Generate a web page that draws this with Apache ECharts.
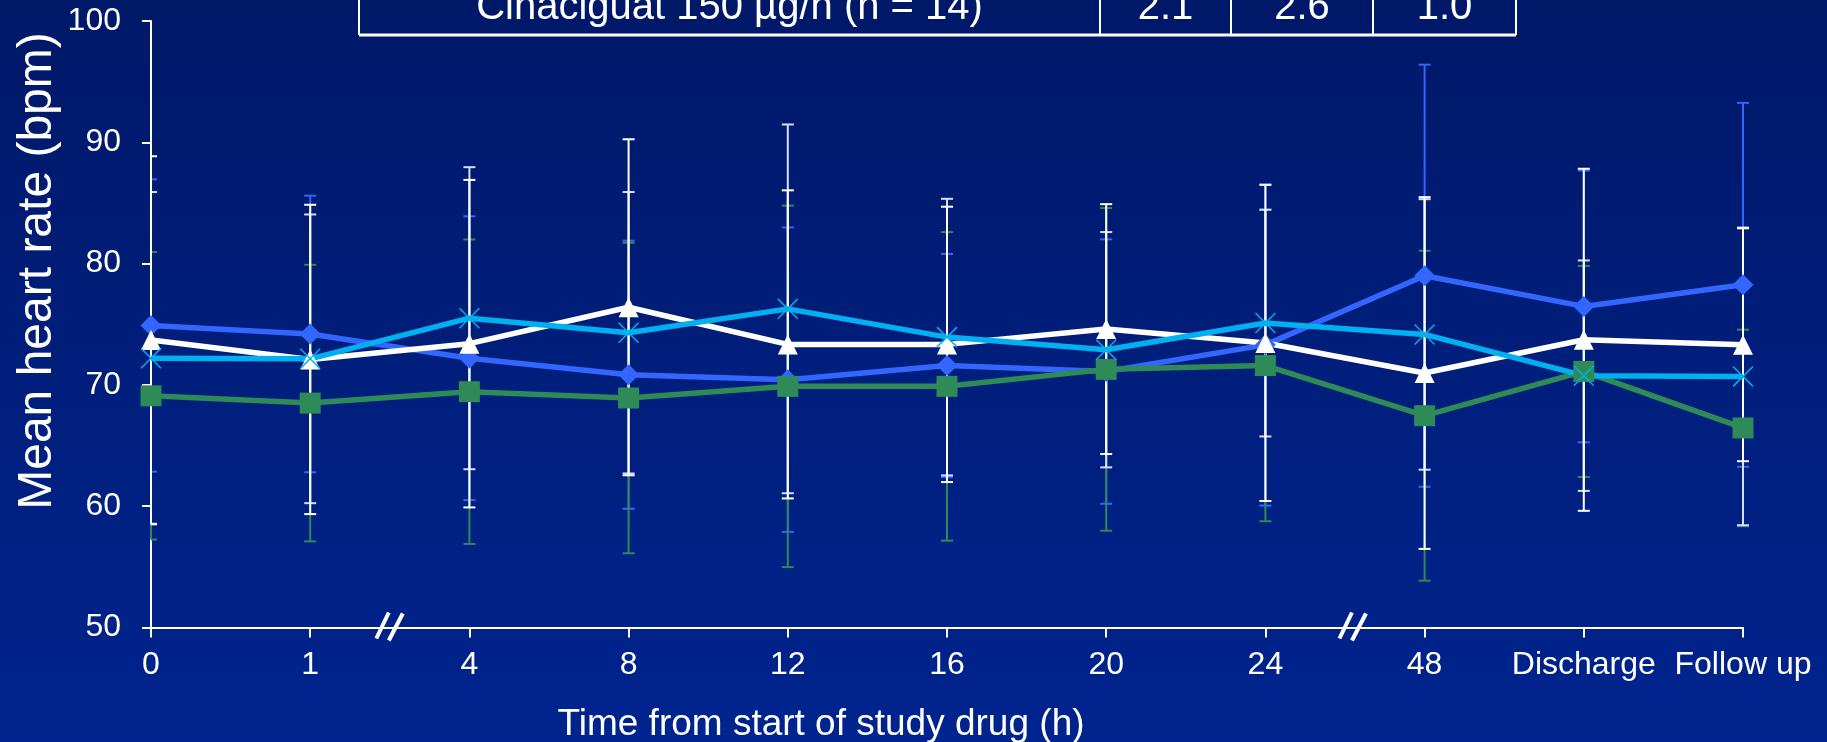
<!DOCTYPE html>
<html><head><meta charset="utf-8">
<script src="https://cdn.jsdelivr.net/npm/echarts@6/dist/echarts.min.js"></script>
<style>html,body{margin:0;padding:0;background:#001c70;}#c{width:1827px;height:742px;}</style>
</head><body><div id="c"></div>
<script>
// ---- data ----
const categories = ['0','1','4','8','12','16','20','24','48','Discharge','Follow up'];
const yTicks = [50, 60, 70, 80, 90, 100];
const yTitle = 'Mean heart rate (bpm)';
const xTitle = 'Time from start of study drug (h)';
const tableRow = ['Cinaciguat 150 µg/h (n = 14)', '2.1', '2.6', '1.0'];
const breakPositions = [1.5, 7.55];

const blueMean  = [74.9, 74.2, 72.2, 70.84, 70.43, 71.6, 71.1, 73.3, 79.0, 76.47, 78.25];
const blueSD    = [12.05, 11.4, 11.7, 11.05, 12.55, 9.2, 10.9, 13.25, 17.4, 11.2, 15.0];
const greenMean = [69.1, 68.5, 69.44, 68.92, 69.88, 69.88, 71.28, 71.59, 67.46, 71.11, 66.45];
const greenSD   = [11.85, 11.4, 12.55, 12.8, 14.9, 12.72, 13.3, 12.83, 13.6, 8.7, 8.1];
const whiteMean = [73.7, 72.1, 73.4, 76.4, 73.34, 73.34, 74.6, 73.46, 70.98, 73.72, 73.31];
const whiteSD   = [15.15, 12.75, 13.5, 13.85, 12.7, 11.35, 10.3, 13.03, 14.5, 14.1, 9.6];
const cyanMean  = [72.2, 72.15, 75.5, 74.3, 76.27, 73.94, 72.9, 75.1, 74.16, 70.76, 70.7];
const cyanSD    = [13.7, 11.9, 12.45, 11.6, 15.2, 11.4, 9.7, 9.35, 11.15, 9.5, 12.27];

// ---- styles ----
const FONT = '"Liberation Sans", Arial, sans-serif';
const C_BLUE = '#3366ff', C_GREEN = '#2e8b57', C_WHITE = '#ffffff', C_CYAN = '#00b0f0', C_CYANBAR = '#d9def2';
const X_PATH = 'path://M0,1L1,0L20,19L19,20Z M19,0L20,1L1,20L0,19Z';

const chart = echarts.init(document.getElementById('c'), null, {renderer: 'canvas'});

function errSeries(mean, sd, color, stemW, z) {
  return {
    type: 'custom', z: z, silent: true, animation: false,
    data: mean.map((m, i) => [i, m - sd[i], m + sd[i]]),
    encode: {x: 0, y: [1, 2]},
    renderItem: function (params, api) {
      const x = api.value(0);
      const lo = api.coord([x, api.value(1)]);
      const hi = api.coord([x, api.value(2)]);
      const minX = api.coord([0, yTicks[0]])[0];
      const hw = 6;
      const l = Math.max(hi[0] - hw, minX);
      return {type: 'group', children: [
        {type: 'line', shape: {x1: hi[0], y1: hi[1], x2: lo[0], y2: lo[1]}, style: {stroke: color, lineWidth: stemW}},
        {type: 'line', shape: {x1: l, y1: hi[1], x2: hi[0] + hw, y2: hi[1]}, style: {stroke: color, lineWidth: 2}},
        {type: 'line', shape: {x1: l, y1: lo[1], x2: lo[0] + hw, y2: lo[1]}, style: {stroke: color, lineWidth: 2}}
      ]};
    }
  };
}

function lineSeries(mean, color, symbol, size, z) {
  return {
    type: 'line', z: z, animation: false, silent: true,
    data: mean.map((v, i) => [i, v]),
    symbol: symbol, symbolSize: size, showSymbol: true,
    lineStyle: {color: color, width: 5.5},
    itemStyle: {color: color}
  };
}

const tableX = [359, 1100, 1231, 1373, 1516];
const tableBottom = 35;
const graphics = [];
tableX.forEach(x => graphics.push({type: 'line', shape: {x1: x, y1: -2, x2: x, y2: tableBottom}, style: {stroke: '#fff', lineWidth: 2}}));
graphics.push({type: 'line', shape: {x1: tableX[0], y1: tableBottom, x2: tableX[4], y2: tableBottom}, style: {stroke: '#fff', lineWidth: 3}});
tableRow.forEach((t, i) => graphics.push({
  type: 'text', x: (tableX[i] + tableX[i + 1]) / 2, y: 8,
  style: {text: t, fill: '#fff', font: '40px ' + FONT, align: 'center', verticalAlign: 'middle'}
}));
graphics.push({type: 'text', x: 38, y: 271, rotation: Math.PI / 2,
  style: {text: yTitle, fill: '#fff', font: '48px ' + FONT, align: 'center', verticalAlign: 'middle'}});
graphics.push({type: 'text', x: 821, y: 725,
  style: {text: xTitle, fill: '#fff', font: '37px ' + FONT, align: 'center', verticalAlign: 'middle'}});

chart.setOption({
  animation: false,
  backgroundColor: new echarts.graphic.LinearGradient(0, 0, 0, 1, [
    {offset: 0, color: '#001868'}, {offset: 1, color: '#00248f'}
  ]),
  grid: {left: 151, right: 84, top: 21, bottom: 114.5, containLabel: false},
  xAxis: {
    type: 'value', min: 0, max: categories.length - 1, interval: 1,
    axisLine: {show: true, onZero: false, lineStyle: {color: '#fff', width: 2}},
    axisTick: {show: true, length: 10, lineStyle: {color: '#fff', width: 2}},
    splitLine: {show: false},
    axisLabel: {color: '#fff', fontSize: 32, fontFamily: FONT, margin: 22,
      formatter: v => categories[v] !== undefined ? categories[v] : ''}
  },
  yAxis: {
    type: 'value', min: yTicks[0], max: yTicks[yTicks.length - 1], interval: 10,
    axisLine: {show: true, lineStyle: {color: '#fff', width: 2}},
    axisTick: {show: true, length: 9, lineStyle: {color: '#fff', width: 2}},
    splitLine: {show: false},
    axisLabel: {color: '#fff', fontSize: 32, fontFamily: FONT, margin: 30}
  },
  graphic: graphics,
  series: [
    errSeries(blueMean, blueSD, C_BLUE, 2, 2),
    errSeries(greenMean, greenSD, C_GREEN, 2, 2),
    errSeries(cyanMean, cyanSD, C_CYANBAR, 2, 2),
    errSeries(whiteMean, whiteSD, C_WHITE, 2, 2),
    lineSeries(blueMean, C_BLUE, 'diamond', 21, 3),
    lineSeries(greenMean, C_GREEN, 'rect', 21, 3),
    lineSeries(whiteMean, C_WHITE, 'triangle', 20, 3),
    lineSeries(cyanMean, C_CYAN, X_PATH, 21, 3),
    {
      type: 'custom', z: 6, silent: true, animation: false, clip: false,
      data: breakPositions.map(b => [b, yTicks[0]]),
      renderItem: function (params, api) {
        const c = api.coord([api.value(0), api.value(1)]);
        return {type: 'group', children: [
          {type: 'line', shape: {x1: c[0] - 13.5, y1: c[1] + 11, x2: c[0] - 1, y2: c[1] - 15}, style: {stroke: '#fff', lineWidth: 4}},
          {type: 'line', shape: {x1: c[0] - 1, y1: c[1] + 13, x2: c[0] + 13, y2: c[1] - 14}, style: {stroke: '#fff', lineWidth: 4}}
        ]};
      }
    }
  ]
});
</script>
</body></html>
